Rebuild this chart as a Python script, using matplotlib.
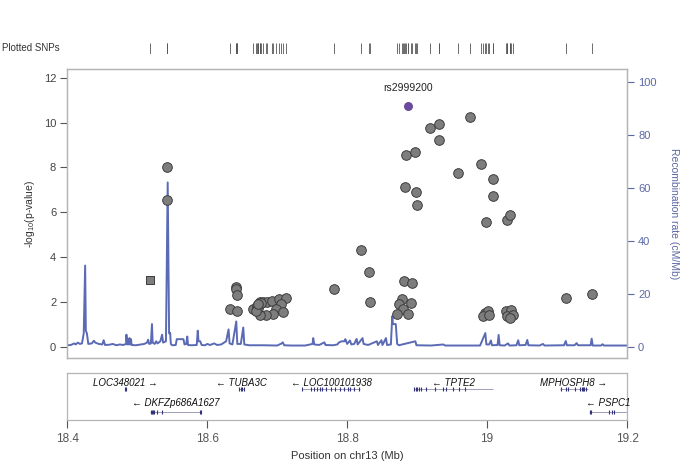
import matplotlib.pyplot as plt
import numpy as np

plt.rcParams['font.family'] = ['Liberation Sans', 'DejaVu Sans']
plt.rcParams['mathtext.default'] = 'regular'

# SNP positions (Mb) and -log10(p)
snp_pos = [18.5429, 18.5429, 18.641, 18.6415, 18.643, 18.632, 18.643,
           18.6657, 18.671, 18.675, 18.680, 18.685, 18.692, 18.703, 18.7124,
           18.705, 18.698, 18.7077, 18.694, 18.6834, 18.675, 18.673, 18.6696,
           18.677, 18.672,
           18.781, 18.820, 18.8306, 18.833, 18.8806, 18.893, 18.878, 18.874,
           18.891, 18.880, 18.8706, 18.8876, 18.882, 18.884, 18.897, 18.898,
           18.9005, 18.918, 18.931, 18.931, 18.958, 18.976, 18.992, 19.009,
           19.009, 18.998, 19.028, 19.033,
           18.9967, 19.0014, 18.994, 19.003, 19.0277, 19.0349, 19.0286, 19.037,
           19.0324, 19.113, 19.150]
snp_logp = [8.0, 6.57, 2.68, 2.58, 2.30, 1.70, 1.60,
            1.68, 1.83, 1.97, 1.97, 1.97, 2.05, 2.13, 2.15,
            1.90, 1.68, 1.54, 1.45, 1.42, 1.39, 1.72, 1.57,
            1.95, 1.90,
            2.56, 4.32, 3.35, 1.97, 2.93, 2.84, 2.14, 1.90,
            1.93, 1.70, 1.44, 1.44, 7.12, 8.55, 8.67, 6.89,
            6.31, 9.76, 9.94, 9.21, 7.74, 10.26, 8.15, 7.49,
            6.74, 5.56, 5.67, 5.89,
            1.50, 1.57, 1.38, 1.42, 1.61, 1.65, 1.38, 1.42,
            1.27, 2.15, 2.36]

# SNP drawn as a square (different annotation class)
square_pos = [18.5186]
square_logp = [2.98]

lead_name = 'rs2999200'
lead_pos = 18.8876
lead_logp = 10.75

# recombination rate (cM/Mb)
recomb_pos = [18.400, 18.405, 18.410, 18.412, 18.415, 18.418, 18.421, 18.4235, 18.4255,
              18.4265, 18.428, 18.430, 18.435, 18.438, 18.440, 18.445, 18.450, 18.452,
              18.454, 18.460, 18.465, 18.470, 18.475, 18.480, 18.484, 18.4845, 18.4855,
              18.4865, 18.4875, 18.489, 18.490, 18.491, 18.492, 18.498, 18.505, 18.510,
              18.514, 18.5155, 18.517, 18.5195, 18.521, 18.522, 18.525, 18.527, 18.529,
              18.533, 18.5355, 18.537, 18.541, 18.5435, 18.5455, 18.547, 18.548, 18.550,
              18.555, 18.5565, 18.566, 18.5675, 18.570, 18.5715, 18.5725, 18.578, 18.585,
              18.5865, 18.5875, 18.590, 18.592, 18.597, 18.600, 18.604, 18.610, 18.614,
              18.620, 18.627, 18.6305, 18.632, 18.636, 18.6415, 18.643, 18.648, 18.6515,
              18.653, 18.660, 18.680, 18.700, 18.7065, 18.708, 18.710, 18.720, 18.740,
              18.7505, 18.7515, 18.753, 18.760, 18.7675, 18.769, 18.780, 18.786, 18.788,
              18.792, 18.796, 18.7975, 18.800, 18.804, 18.806, 18.810, 18.8135, 18.815,
              18.822, 18.8235, 18.830, 18.8425, 18.844, 18.849, 18.8505, 18.8555, 18.857,
              18.8625, 18.8645, 18.8655, 18.8695, 18.8715, 18.874, 18.8975, 18.899, 18.920,
              18.9375, 18.940, 18.990, 18.9975, 18.999, 19.003, 19.0055, 19.007, 19.015,
              19.0165, 19.018, 19.025, 19.030, 19.032, 19.042, 19.0445, 19.046, 19.055,
              19.0575, 19.059, 19.075, 19.080, 19.082, 19.110, 19.1125, 19.114, 19.125,
              19.128, 19.130, 19.148, 19.1495, 19.151, 19.163, 19.165, 19.167, 19.200]
recomb_rate = [0.5, 0.6, 1.2, 0.8, 1.5, 1.0, 1.2, 5.0, 30.6,
               6.0, 5.0, 1.0, 1.2, 2.2, 1.5, 1.0, 0.8, 2.4,
               0.6, 0.7, 1.0, 0.5, 0.8, 0.6, 1.0, 4.5, 0.8,
               3.0, 0.8, 3.2, 0.8, 2.8, 0.6, 0.5, 0.8, 1.0,
               1.5, 2.6, 1.0, 1.2, 8.5, 1.5, 1.0, 2.0, 1.2,
               2.0, 4.5, 1.5, 2.0, 62.0, 5.0, 5.2, 1.0, 0.5,
               0.6, 2.8, 2.8, 0.8, 1.0, 3.8, 0.6, 0.5, 0.6,
               6.0, 2.0, 2.0, 0.6, 0.5, 1.0, 0.6, 1.2, 0.6,
               0.8, 2.0, 6.5, 1.2, 0.8, 9.5, 1.0, 1.0, 7.2,
               0.8, 0.5, 0.5, 0.4, 1.2, 1.6, 0.5, 0.4, 0.4,
               1.0, 3.2, 0.8, 0.6, 1.6, 0.6, 0.5, 0.8, 1.5,
               2.0, 2.0, 2.8, 1.0, 2.3, 0.8, 1.0, 2.9, 0.8,
               3.2, 1.0, 0.6, 2.0, 0.6, 2.4, 0.6, 3.2, 0.6,
               0.8, 11.5, 8.5, 8.5, 1.0, 0.5, 2.0, 0.5, 0.4,
               0.8, 0.4, 0.4, 5.1, 0.8, 0.8, 2.3, 0.5, 0.6,
               4.4, 0.5, 0.4, 1.2, 0.4, 0.5, 2.4, 0.5, 0.6,
               2.5, 0.5, 0.4, 1.0, 0.4, 0.5, 2.1, 0.5, 0.5,
               1.3, 0.5, 0.5, 3.0, 0.4, 0.4, 0.9, 0.4, 0.4]

# genes
gene_names = ['LOC348021', 'DKFZp686A1627', 'TUBA3C', 'LOC100101938', 'TPTE2', 'MPHOSPH8', 'PSPC1']
gene_start = [18.482, 18.518, 18.645, 18.736, 18.895, 19.104, 19.146]
gene_end = [18.484, 18.591, 18.653, 18.818, 19.008, 19.144, 19.200]
gene_strand = ['+', '-', '-', '-', '-', '+', '-']
gene_row = [0, 1, 0, 0, 0, 0, 1]
gene_exons = [
    [18.482, 18.4838],
    [18.519, 18.5205, 18.522, 18.5235, 18.528, 18.535, 18.589, 18.591],
    [18.646, 18.648, 18.650, 18.652],
    [18.736, 18.748, 18.752, 18.757, 18.761, 18.764, 18.770, 18.777, 18.783,
     18.790, 18.795, 18.801, 18.804, 18.810, 18.817],
    [18.896, 18.898, 18.900, 18.902, 18.905, 18.912, 18.926, 18.937, 18.941,
     18.952, 18.960, 18.968],
    [19.105, 19.113, 19.116, 19.125, 19.133, 19.135, 19.137, 19.139, 19.142],
    [19.147, 19.149, 19.174, 19.178, 19.181],
]

xticks = [18.4, 18.6, 18.8, 19.0, 19.2]
xticklabels = ['18.4', '18.6', '18.8', '19', '19.2']

spine_c = '#b5b5b5'
tick_c = '#555555'
recomb_c = '#5a6ab4'
right_c = '#5b67a3'

fig = plt.figure(figsize=(6.85, 4.73), dpi=100)
W, H = 685, 473


def px_axes(x0, y0, x1, y1):
    return fig.add_axes([x0 / W, 1 - y1 / H, (x1 - x0) / W, (y1 - y0) / H])


ax = px_axes(67.3, 69, 627, 358)
ax2 = ax.twinx()
ax.set_zorder(ax2.get_zorder() + 1)
ax.patch.set_visible(False)

ax2.plot(recomb_pos, recomb_rate, color=recomb_c, lw=1.4, zorder=1)

ax.scatter(snp_pos, snp_logp, s=48, facecolor='#7d7d7d', edgecolor='#3c3c3c',
           linewidth=0.7, zorder=3)
ax.scatter(square_pos, square_logp, s=30, marker='s', facecolor='#7d7d7d',
           edgecolor='#3c3c3c', linewidth=0.7, zorder=3)
ax.scatter([lead_pos], [lead_logp], s=34, facecolor='#6d4a9f', edgecolor='#553a85',
           linewidth=0.5, zorder=4)
ax.annotate(lead_name, (lead_pos, lead_logp), xytext=(0, 9), textcoords='offset points',
            ha='center', va='bottom', fontsize=7.5, color='#222222')

ylo, yhi = -0.51, 12.4
ax.set_xlim(18.4, 19.2)
ax.set_ylim(ylo, yhi)
scale = 100 / 11.825
ax2.set_ylim(ylo * scale, yhi * scale)

ax.set_xticks([])
ax.set_yticks(np.arange(0, 13, 2))
ax.tick_params(axis='y', direction='out', length=5, color=tick_c, labelcolor='#444444',
               labelsize=8, pad=3)
ax2.set_yticks(np.arange(0, 101, 20))
ax2.tick_params(axis='y', direction='out', length=5, color=right_c, labelcolor=right_c,
                labelsize=8, pad=3)
for a in (ax, ax2):
    for s in a.spines.values():
        s.set_color(spine_c)
        s.set_linewidth(0.9)

ax.set_ylabel('-log$_{10}$(p-value)', fontsize=7.5, color='#333333', labelpad=5)
ax2.set_ylabel('Recombination rate (cM/Mb)', fontsize=7.5, color=right_c,
               rotation=270, labelpad=16)

# plotted SNPs rug
axr = px_axes(67.3, 43, 627, 53.5)
rug = list(snp_pos) + list(square_pos) + [lead_pos]
axr.vlines(rug, 0, 1, color='#555555', lw=0.6)
axr.set_xlim(18.4, 19.2)
axr.set_ylim(0, 1)
axr.axis('off')
fig.text(2 / W, 1 - 48 / H, 'Plotted SNPs', fontsize=7, color='#333333', va='center')

# gene track
axg = px_axes(67.3, 373, 627, 420)
axg.set_xlim(18.4, 19.2)
axg.set_ylim(0, 1)
row_line = {0: 0.655, 1: 0.165}
row_text = {0: 0.79, 1: 0.36}
gene_c = '#33337a'
for name, st, en, strand, row, exons in zip(gene_names, gene_start, gene_end,
                                            gene_strand, gene_row, gene_exons):
    y = row_line[row]
    axg.plot([st, en], [y, y], color='#7a7aa0', lw=0.5, solid_capstyle='butt')
    for e in exons:
        axg.plot([e, e], [y - 0.045, y + 0.045], color=gene_c, lw=0.8,
                 solid_capstyle='butt')
    label = name + ' \u2192' if strand == '+' else '\u2190 ' + name
    axg.text((st + en) / 2, row_text[row], label, ha='center', va='center',
             fontsize=7, style='italic', color='#111111',
             family=['Liberation Sans', 'DejaVu Sans'])
axg.set_yticks([])
axg.set_xticks(xticks)
axg.set_xticklabels(xticklabels)
axg.tick_params(axis='x', direction='out', length=6, color=tick_c, labelcolor=tick_c,
                labelsize=8.5, pad=3)
for s in axg.spines.values():
    s.set_color(spine_c)
    s.set_linewidth(0.9)
axg.set_xlabel('Position on chr13 (Mb)', fontsize=8, color='#333333', labelpad=5)

fig.savefig('out.png', dpi=100)
